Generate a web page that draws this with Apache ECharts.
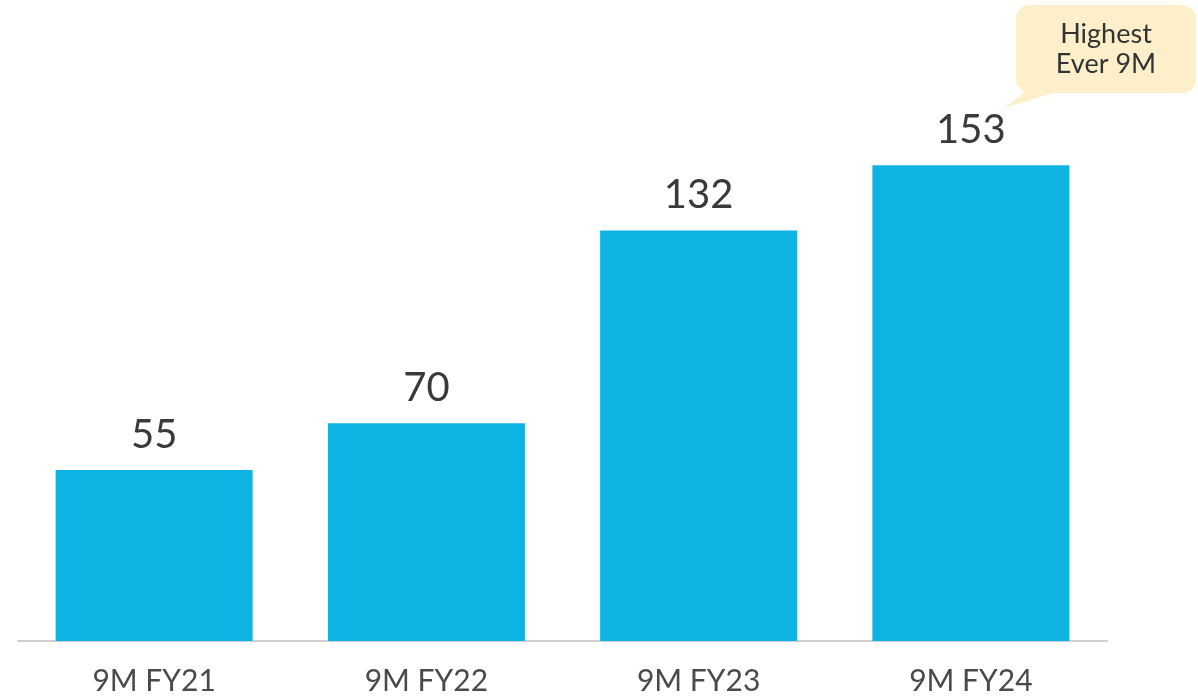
<!DOCTYPE html>
<html>
<head>
<meta charset="utf-8">
<script src="https://cdn.jsdelivr.net/npm/echarts@6/dist/echarts.min.js"></script>
<style>
html,body{margin:0;padding:0;background:#fff;}
#main{width:1198px;height:699px;}
</style>
</head>
<body>
<div id="main"></div>
<script>
const categories = ['9M FY21', '9M FY22', '9M FY23', '9M FY24'];
const values = [55, 70, 132, 153];
const calloutLines = ['Highest', 'Ever 9M'];

const chart = echarts.init(document.getElementById('main'));
chart.setOption({
  backgroundColor: '#ffffff',
  animation: false,
  grid: { left: 18, right: 91, top: 19, bottom: 58, containLabel: false },
  xAxis: {
    type: 'category',
    data: categories,
    axisLine: { show: true, lineStyle: { color: '#cfcfcf', width: 2 } },
    axisTick: { show: false },
    axisLabel: { color: '#4a4a4a', fontSize: 30, fontFamily: 'Lato', margin: 25 }
  },
  yAxis: {
    type: 'value', min: 0, max: 200,
    show: false, splitLine: { show: false }
  },
  series: [{
    type: 'bar',
    data: values,
    barWidth: 197,
    itemStyle: { color: '#0db4e3' },
    label: {
      show: true, position: 'top', distance: 15,
      color: '#3a3a3a', fontSize: 40, fontFamily: 'Lato'
    }
  }],
  graphic: [
    {
      type: 'polygon', z: 10,
      shape: { points: [[1030, 88], [1070, 88], [1004, 108]] },
      style: { fill: '#fcefc9' }
    },
    {
      type: 'rect', z: 11,
      shape: { x: 1016, y: 5, width: 180, height: 88, r: 14 },
      style: { fill: '#fcefc9' }
    },
    {
      type: 'text', z: 12,
      x: 1106, y: 19,
      style: {
        text: calloutLines.join('\n'), fill: '#333333',
        font: '27px Lato', lineHeight: 30, align: 'center', verticalAlign: 'top'
      }
    }
  ]
});
</script>
</body>
</html>
